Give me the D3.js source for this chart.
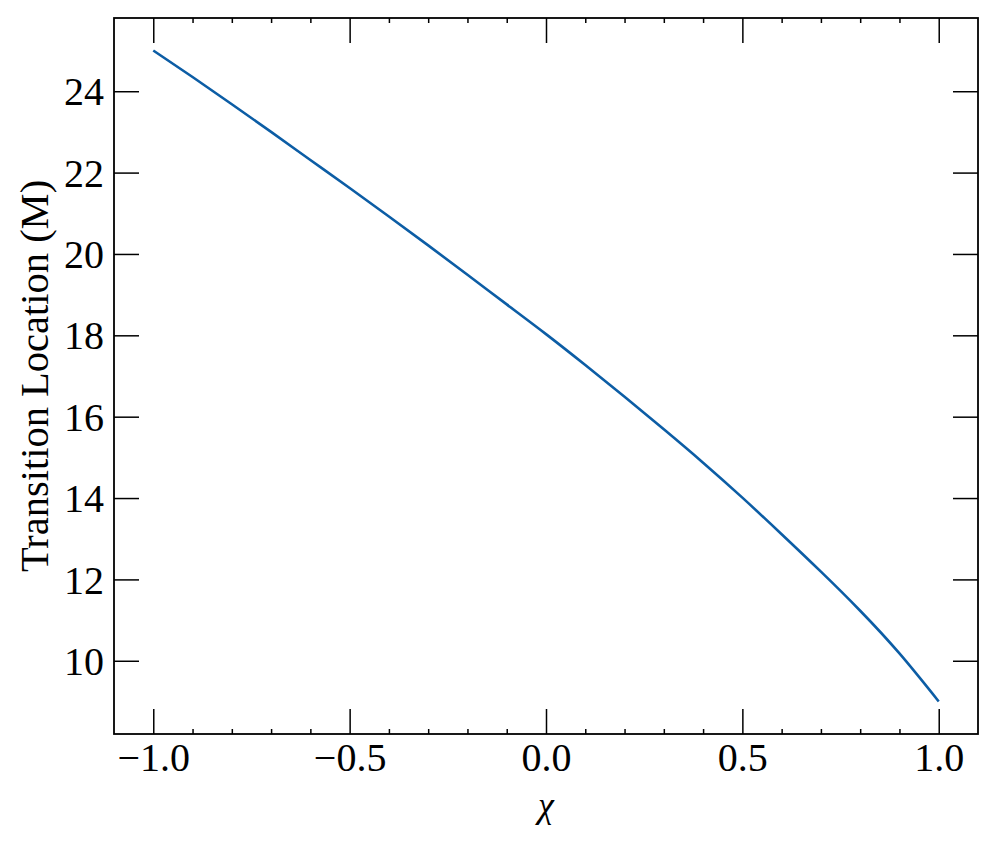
<!DOCTYPE html>
<html>
<head>
<meta charset="utf-8">
<script src="https://cdn.jsdelivr.net/npm/d3@7"></script>
<style>
  body { margin: 0; background: #fff; }
  text { font-family: "Liberation Serif", "DejaVu Serif", serif; fill: #000; }
</style>
</head>
<body>
<div id="chart"></div>
<script>
// spin parameter and transition radius
var chi = [-1.0, -0.9, -0.8, -0.7, -0.6, -0.5, -0.4, -0.3, -0.2, -0.1, 0.0,
           0.1, 0.2, 0.3, 0.4, 0.5, 0.6, 0.7, 0.8, 0.9, 1.0];
var transition = [25.00, 24.35, 23.68, 23.00, 22.31, 21.62, 20.92, 20.21, 19.49, 18.76, 18.03,
                  17.27, 16.49, 15.69, 14.87, 14.01, 13.11, 12.19, 11.23, 10.18, 9.00];

var xMajor = [-1.0, -0.5, 0.0, 0.5, 1.0];
var xMinor = [-0.9, -0.8, -0.7, -0.6, -0.4, -0.3, -0.2, -0.1, 0.1, 0.2, 0.3, 0.4, 0.6, 0.7, 0.8, 0.9];
var yMajor = [10, 12, 14, 16, 18, 20, 22, 24];

var margin = { top: 18, right: 19, bottom: 107, left: 114 },
    width = 997 - margin.left - margin.right,
    height = 841 - margin.top - margin.bottom;

var svg = d3.select("#chart")
    .append("svg")
    .attr("width", 997)
    .attr("height", 841)
    .append("g")
    .attr("transform", "translate(" + margin.left + "," + margin.top + ")");

var x = d3.scaleLinear().domain([-1.1, 1.1]).range([0, width]);
var y = d3.scaleLinear().domain([8.2, 25.8]).range([height, 0]);

function fmt(d) {
    var s = d3.format(".1f")(Math.abs(d));
    return (d < 0 ? "\u2212" : "") + s;
}

var majorLen = 25, minorLen = 5;

// bottom ticks, pointing inwards
var bottom = svg.append("g").attr("transform", "translate(0," + height + ")");
bottom.call(d3.axisBottom(x).tickValues(xMinor).tickSize(-minorLen).tickFormat(""));
var bottomMajor = svg.append("g").attr("transform", "translate(0," + height + ")");
bottomMajor.call(d3.axisBottom(x).tickValues(xMajor).tickSize(-majorLen).tickPadding(11).tickFormat(fmt));

// top ticks
var top_ = svg.append("g");
top_.call(d3.axisTop(x).tickValues(xMinor).tickSize(-minorLen).tickFormat(""));
var topMajor = svg.append("g");
topMajor.call(d3.axisTop(x).tickValues(xMajor).tickSize(-majorLen).tickFormat(""));

// left and right
var left = svg.append("g");
left.call(d3.axisLeft(y).tickValues(yMajor).tickSize(-majorLen).tickPadding(10).tickFormat(d3.format("d")));
var right = svg.append("g").attr("transform", "translate(" + width + ",0)");
right.call(d3.axisRight(y).tickValues(yMajor).tickSize(-majorLen).tickFormat(""));

svg.selectAll(".domain").remove();
svg.selectAll(".tick line").attr("stroke", "#000").attr("stroke-width", 1.5);
svg.selectAll(".tick text").attr("font-size", "40px")
    .attr("font-family", "Liberation Serif, DejaVu Serif, serif");
bottomMajor.selectAll(".tick text").attr("dy", "0.65em");
left.selectAll(".tick text").attr("dy", "0.34em");

// frame
svg.append("rect")
    .attr("x", 0).attr("y", 0)
    .attr("width", width).attr("height", height)
    .attr("fill", "none")
    .attr("stroke", "#000")
    .attr("stroke-width", 1.8);

var data = chi.map(function (c, i) { return { c: c, t: transition[i] }; });

var line = d3.line()
    .x(function (d) { return x(d.c); })
    .y(function (d) { return y(d.t); })
    .curve(d3.curveNatural);

svg.append("path")
    .datum(data)
    .attr("fill", "none")
    .attr("stroke", "#0C5DA5")
    .attr("stroke-width", 2.6)
    .attr("d", line);

// axis labels
svg.append("text")
    .attr("x", width / 2)
    .attr("y", height + 83)
    .attr("text-anchor", "middle")
    .attr("font-size", "36px")
    .attr("font-style", "italic")
    .attr("font-family", "DejaVu Serif, serif")
    .text("\u03c7");

svg.append("text")
    .attr("transform", "translate(" + (48 - margin.left) + "," + (height / 2) + ") rotate(-90)")
    .attr("text-anchor", "middle")
    .attr("font-size", "40.5px")
    .text("Transition Location (M)");
</script>
</body>
</html>
